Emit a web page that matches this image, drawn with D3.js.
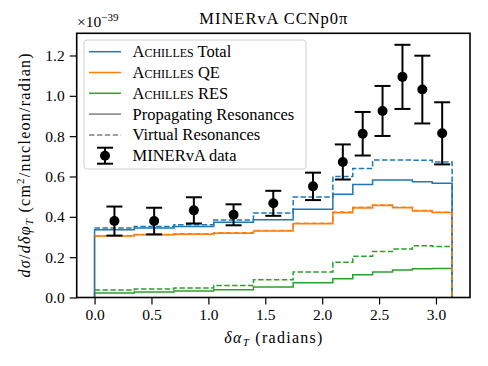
<!DOCTYPE html>
<html>
<meta charset="utf-8">
<style>
body { margin: 0; background: #fff; }
text { font-family: "Liberation Serif", serif; fill: #000; }
.tick text { font-size: 15.5px; }
</style>
<body>
<svg width="488" height="366"></svg>
<script src="https://d3js.org/d3.v7.min.js"></script>
<script>

// bin edges in radians (same binning for data and prediction)
var binEdges = [0, 0.349, 0.698, 1.047, 1.396, 1.745, 2.094, 2.269, 2.443, 2.618, 2.793, 2.967, 3.142];

// MINERvA data, units of 1e-39 cm^2/nucleon/radian
var dataVal = [0.379, 0.379, 0.432, 0.410, 0.467, 0.551, 0.672, 0.812, 0.925, 1.094, 1.031, 0.814];
var dataErr = [0.072, 0.066, 0.065, 0.052, 0.062, 0.068, 0.087, 0.108, 0.124, 0.159, 0.168, 0.154];

// ACHILLES predictions
var totalProp = [0.336, 0.344, 0.352, 0.373, 0.385, 0.437, 0.512, 0.560, 0.582, 0.582, 0.574, 0.566];
var totalVirt = [0.344, 0.352, 0.361, 0.384, 0.419, 0.498, 0.600, 0.640, 0.682, 0.682, 0.681, 0.672];
var qeProp    = [0.305, 0.311, 0.314, 0.319, 0.330, 0.366, 0.420, 0.444, 0.456, 0.445, 0.429, 0.422];
var qeVirt    = [0.306, 0.312, 0.316, 0.321, 0.332, 0.368, 0.424, 0.448, 0.459, 0.447, 0.431, 0.423];
var resProp   = [0.022, 0.027, 0.032, 0.038, 0.052, 0.073, 0.093, 0.113, 0.126, 0.136, 0.142, 0.144];
var resVirt   = [0.037, 0.042, 0.047, 0.060, 0.088, 0.127, 0.175, 0.204, 0.228, 0.240, 0.257, 0.253];

var xTicks = [0, 0.5, 1.0, 1.5, 2.0, 2.5, 3.0];
var yTicks = [0, 0.2, 0.4, 0.6, 0.8, 1.0, 1.2];

var blue = "#1f77b4", orange = "#ff7f0e", green = "#2ca02c";

var svg = d3.select("svg");
var padL = 76.7, padR = 470, padT = 33.3, padB = 297.5;

var x = d3.scaleLinear().domain([-0.157, 3.299]).range([padL, padR]);
var y = d3.scaleLinear().domain([0, 1.31]).range([padB, padT]);

// step histogram path
function stepPath(vals, leftEdge) {
  var pts = [];
  if (leftEdge) pts.push([binEdges[0], 0]);
  vals.forEach(function(v, i) { pts.push([binEdges[i], v]); });
  pts.push([binEdges[binEdges.length - 1], vals[vals.length - 1]]);
  pts.push([binEdges[binEdges.length - 1], 0]);
  return d3.line()
    .x(function(d) { return x(d[0]); })
    .y(function(d) { return y(d[1]); })
    .curve(d3.curveStepAfter)(pts);
}

var hists = [
  {v: resProp, c: green, dash: null, l: true},
  {v: qeProp, c: orange, dash: null, l: true},
  {v: totalProp, c: blue, dash: null, l: true},
  {v: resVirt, c: green, dash: "5.5,2.4", l: false},
  {v: totalVirt, c: blue, dash: "5.5,2.4", l: false},
  {v: qeVirt, c: orange, dash: "5.5,2.4", l: false}
];

var plot = svg.append("g");
plot.selectAll("path.hist")
  .data(hists)
  .enter().append("path")
    .attr("class", "hist")
    .attr("d", function(d) { return stepPath(d.v, d.l); })
    .attr("fill", "none")
    .attr("stroke", function(d) { return d.c; })
    .attr("stroke-width", 1.5)
    .attr("stroke-dasharray", function(d) { return d.dash; });

// data points with error bars
var pts = dataVal.map(function(v, i) {
  return {x: (binEdges[i] + binEdges[i + 1]) / 2, v: v, e: dataErr[i]};
});
var eb = plot.selectAll("g.eb").data(pts).enter().append("g").attr("class", "eb");
eb.append("line")
  .attr("x1", function(d) { return x(d.x); })
  .attr("x2", function(d) { return x(d.x); })
  .attr("y1", function(d) { return y(d.v - d.e); })
  .attr("y2", function(d) { return y(d.v + d.e); })
  .attr("stroke", "#000").attr("stroke-width", 2);
[-1, 1].forEach(function(s) {
  eb.append("line")
    .attr("x1", function(d) { return x(d.x) - 8; })
    .attr("x2", function(d) { return x(d.x) + 8; })
    .attr("y1", function(d) { return y(d.v + s * d.e); })
    .attr("y2", function(d) { return y(d.v + s * d.e); })
    .attr("stroke", "#000").attr("stroke-width", 2);
});
eb.append("circle")
  .attr("cx", function(d) { return x(d.x); })
  .attr("cy", function(d) { return y(d.v); })
  .attr("r", 5)
  .attr("fill", "#000");

// axes
var xAxis = svg.append("g")
  .attr("transform", "translate(0," + padB + ")")
  .call(d3.axisBottom(x).tickValues(xTicks).tickFormat(d3.format(".1f")).tickSize(7).tickPadding(4));
var yAxis = svg.append("g")
  .attr("transform", "translate(" + padL + ",0)")
  .call(d3.axisLeft(y).tickValues(yTicks).tickFormat(d3.format(".1f")).tickSize(7).tickPadding(5));
[xAxis, yAxis].forEach(function(a) {
  a.attr("font-family", null).attr("font-size", null);
  a.select(".domain").remove();
  a.selectAll(".tick line").attr("stroke", "#000").attr("stroke-width", 1.2);
});

svg.append("rect")
  .attr("x", padL).attr("y", padT)
  .attr("width", padR - padL).attr("height", padB - padT)
  .attr("fill", "none").attr("stroke", "#000").attr("stroke-width", 1.6);

// legend
var lg = svg.append("g");
lg.append("rect")
  .attr("x", 84).attr("y", 40).attr("width", 222).attr("height", 129)
  .attr("rx", 3).attr("fill", "#fff").attr("fill-opacity", 0.8)
  .attr("stroke", "#d0d0d0").attr("stroke-width", 1);
var items = [
  {t: ["A", "chilles", " Total"], c: blue},
  {t: ["A", "chilles", " QE"], c: orange},
  {t: ["A", "chilles", " RES"], c: green},
  {t: ["Propagating Resonances"], c: "#808080"},
  {t: ["Virtual Resonances"], c: "#808080", dash: "5.5,2.4"},
  {t: ["MINERvA data"], data: true}
];
items.forEach(function(it, i) {
  var yy = 51.7 + i * 20.8;
  if (it.data) {
    lg.append("line").attr("x1", 105).attr("x2", 105).attr("y1", yy - 8).attr("y2", yy + 8)
      .attr("stroke", "#000").attr("stroke-width", 2);
    [-8, 8].forEach(function(o) {
      lg.append("line").attr("x1", 97).attr("x2", 113).attr("y1", yy + o).attr("y2", yy + o)
        .attr("stroke", "#000").attr("stroke-width", 2);
    });
    lg.append("circle").attr("cx", 105).attr("cy", yy).attr("r", 5).attr("fill", "#000");
  } else {
    lg.append("line").attr("x1", 89).attr("x2", 121).attr("y1", yy).attr("y2", yy)
      .attr("stroke", it.c).attr("stroke-width", 1.5).attr("stroke-dasharray", it.dash || null);
  }
  var t = lg.append("text").attr("x", 132.5).attr("y", yy + 5.5).attr("font-size", 16.5);
  if (it.t.length > 1) {
    t.append("tspan").text(it.t[0]);
    t.append("tspan").style("font-variant", "small-caps").text(it.t[1]);
    t.append("tspan").text(it.t[2]);
  } else {
    t.text(it.t[0]);
  }
});

// title and scale factor
svg.append("text").attr("x", (padL + padR) / 2).attr("y", 24)
  .attr("text-anchor", "middle").attr("font-size", 16.5)
  .attr("textLength", 148).attr("lengthAdjust", "spacing")
  .text("MINERvA CCNp0π");
var sf = svg.append("text").attr("x", 77).attr("y", 26.5).attr("font-size", 15.5);
sf.append("tspan").text("×10");
sf.append("tspan").attr("dy", -6).attr("font-size", 11).text("−39");

// x label
var xl = svg.append("text").attr("x", (padL + padR) / 2).attr("y", 343)
  .attr("text-anchor", "middle").attr("font-size", 16)
  .attr("textLength", 98).attr("lengthAdjust", "spacing");
xl.append("tspan").attr("font-style", "italic").text("δα");
xl.append("tspan").attr("font-style", "italic").attr("font-size", 11).attr("dy", 3).text("T");
xl.append("tspan").attr("dy", -3).text(" (radians)");

// y label
var yl = svg.append("text")
  .attr("transform", "translate(30," + ((padT + padB) / 2) + ") rotate(-90)")
  .attr("text-anchor", "middle").attr("font-size", 16)
  .attr("textLength", 224).attr("lengthAdjust", "spacing");
yl.append("tspan").attr("font-style", "italic").text("dσ");
yl.append("tspan").text("/");
yl.append("tspan").attr("font-style", "italic").text("dδφ");
yl.append("tspan").attr("font-style", "italic").attr("font-size", 11).attr("dy", 3).text("T");
yl.append("tspan").attr("dy", -3).text(" (cm");
yl.append("tspan").attr("font-size", 11).attr("dy", -6).text("2");
yl.append("tspan").attr("dy", 6).text("/nucleon/radian)");

</script>
</body>
</html>
